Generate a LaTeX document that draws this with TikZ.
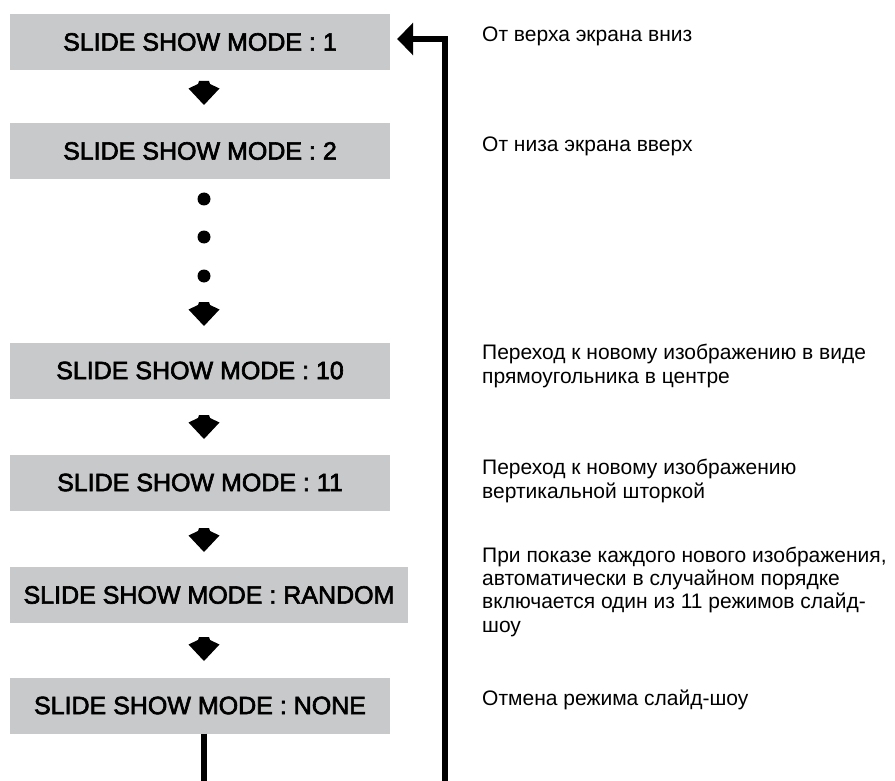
\documentclass[tikz,border=0pt]{standalone}
\usepackage{fontspec}
\setmainfont{Liberation Sans}
\newfontfamily\modefont{Liberation Sans}[FakeBold=2.5]
\usepackage{tikz}
\usetikzlibrary{arrows.meta, positioning, calc}
\definecolor{modegray}{RGB}{200,201,203}

\begin{document}
\begin{tikzpicture}[x=1pt, y=-1pt,
  mode/.style={fill=modegray, minimum width=380pt, minimum height=56pt, inner sep=0pt,
    font=\fontsize{25}{29}\modefont},
  desc/.style={anchor=base west, align=left, inner sep=0pt,
    font=\fontsize{21}{23.3}\selectfont},
  loopline/.style={line width=6pt},
  pics/flowarrow/.style={code={\fill (-5,-12) -- (5,-12) -- (6,-9) -- (15.5,-4.5) -- (0,12) -- (-15.5,-4.5) -- (-6,-9) -- cycle;}}]
  \useasboundingbox (0,0) rectangle (895,781);

  % Modes
  \node[mode] (m1) at (200,42) {SLIDE SHOW MODE : 1};
  \node[mode] (m2) at (200,151) {SLIDE SHOW MODE : 2};
  \node[mode] (m10) at (200,370.5) {SLIDE SHOW MODE : 10};
  \node[mode] (m11) at (200,482.5) {SLIDE SHOW MODE : 11};
  \node[mode, minimum width=398pt] (mr) at (209,595) {SLIDE SHOW MODE : RANDOM};
  \node[mode] (mn) at (200,705.5) {SLIDE SHOW MODE : NONE};

  % Arrows and dots
  \pic at (204,93) {flowarrow};
  \fill (204,199) circle (6.5pt);
  \fill (204,237) circle (6.5pt);
  \fill (204,276) circle (6.5pt);
  \pic at (204,314) {flowarrow};
  \pic at (204,427) {flowarrow};
  \pic at (204,540) {flowarrow};
  \pic at (204,649) {flowarrow};

  % Return line
  \coordinate (outl) at (204,781);
  \coordinate (outr) at (445,781);
  \draw[loopline] (mn.south -| outl) -- (outl);
  \draw[loopline, -{Triangle[length=16pt, width=32pt]}] (outr) |- ([xshift=7pt, yshift=3pt]m1.east);

  % Descriptions (base = last line)
  \node[desc] (d1) at (482,42) {От верха экрана вниз};
  \node[desc] (d2) at (482,152) {От низа экрана вверх};
  \node[desc] (d10) at (482,383) {Переход к новому изображению в виде\\прямоугольника в центре};
  \node[desc] (d11) at (482,498) {Переход к новому изображению\\вертикальной шторкой};
  \node[desc] (dr) at (482,632) {При показе каждого нового изображения,\\автоматически в случайном порядке\\включается один из 11 режимов слайд-\\шоу};
  \node[desc] (dn) at (482,705) {Отмена режима слайд-шоу};
\end{tikzpicture}
\end{document}
